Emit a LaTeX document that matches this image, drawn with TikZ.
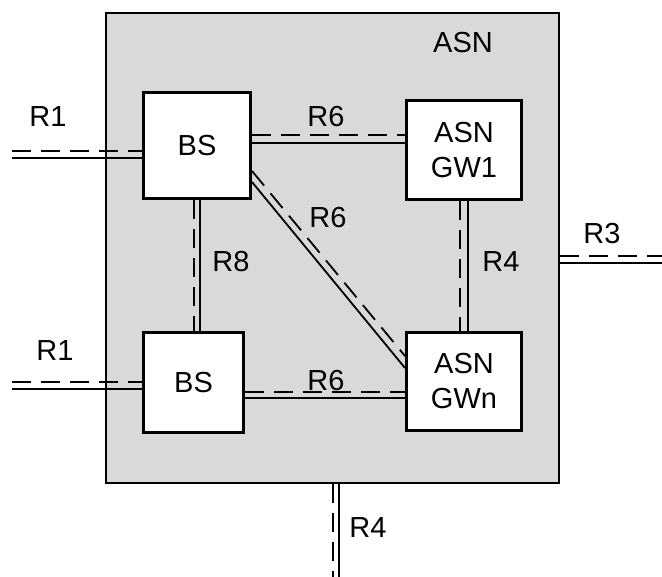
\documentclass[tikz,border=0pt]{standalone}
\usepackage{fontspec}
\setmainfont{Liberation Sans}
\usetikzlibrary{positioning, calc}

\begin{document}
\begin{tikzpicture}[x=1pt, y=-1pt,
	asnbox/.style={rectangle, draw, line width=2.5pt, fill=black!15, minimum width=453pt, minimum height=470pt},
	whitebox/.style={rectangle, draw, line width=3pt, fill=white, align=center, font=\fontsize{29}{35}\selectfont},
	solidlink/.style={line width=1.8pt},
	dashlink/.style={line width=1.8pt, dash pattern=on 19pt off 10pt},
	lbl/.style={font=\fontsize{29}{35}\selectfont, inner sep=0pt}
	]
	\useasboundingbox (0,0) rectangle (662,577);
	\node[asnbox] (asn) at (332.5,248) {};
	\node[lbl] (asnname) at (463,43) {ASN};
	\node[whitebox, minimum width=107pt, minimum height=106pt] (bs1) at (197,146) {BS};
	\node[whitebox, minimum width=100pt, minimum height=100pt] (bs2) at (193.5,382.5) {BS};
	\node[whitebox, minimum width=115pt, minimum height=99pt] (gw1) at (464,150) {ASN\\GW1};
	\node[whitebox, minimum width=115pt, minimum height=98pt] (gwn) at (464,381.5) {ASN\\GWn};
	\coordinate (leftend) at (12,0);
	\coordinate (rightend) at (662,0);
	\coordinate (bottomend) at (0,577);

	\draw[dashlink] (leftend |- 0,151) -- (bs1.west |- 0,151);
	\draw[solidlink] (leftend |- 0,158) -- (bs1.west |- 0,158);
	\draw[dashlink] (leftend |- 0,382) -- (bs2.west |- 0,382);
	\draw[solidlink] (leftend |- 0,389) -- (bs2.west |- 0,389);
	\draw[dashlink] (bs1.east |- 0,135) -- (gw1.west |- 0,135);
	\draw[solidlink] (bs1.east |- 0,143) -- (gw1.west |- 0,143);
	\draw[dashlink] (bs2.east |- 0,392) -- (gwn.west |- 0,392);
	\draw[solidlink] (bs2.east |- 0,398) -- (gwn.west |- 0,398);
	\draw[dashlink] (bs1.south -| 194,0) -- (bs2.north -| 194,0);
	\draw[solidlink] (bs1.south -| 200,0) -- (bs2.north -| 200,0);
	\draw[dashlink] (gw1.south -| 460,0) -- (gwn.north -| 460,0);
	\draw[solidlink] (gw1.south -| 468,0) -- (gwn.north -| 468,0);
	\draw[dashlink] (bs1.east |- 0,171) -- (gwn.west |- 0,356);
	\draw[solidlink] (bs1.east |- 0,182) -- (gwn.west |- 0,368);
	\draw[dashlink] (asn.east |- 0,256) -- (rightend |- 0,256);
	\draw[solidlink] (asn.east |- 0,263) -- (rightend |- 0,263);
	\draw[dashlink] (asn.south -| 333,0) -- (bottomend -| 333,0);
	\draw[solidlink] (asn.south -| 339,0) -- (bottomend -| 339,0);

	\node[lbl] (r1a) at (48,117) {R1};
	\node[lbl] (r1b) at (55,351) {R1};
	\node[lbl] (r6a) at (326,117) {R6};
	\node[lbl] (r6b) at (328,218) {R6};
	\node[lbl] (r6c) at (326,381) {R6};
	\node[lbl] (r8) at (231,262) {R8};
	\node[lbl] (r4a) at (501,262) {R4};
	\node[lbl] (r3) at (602,234) {R3};
	\node[lbl] (r4b) at (368,528) {R4};
\end{tikzpicture}
\end{document}
